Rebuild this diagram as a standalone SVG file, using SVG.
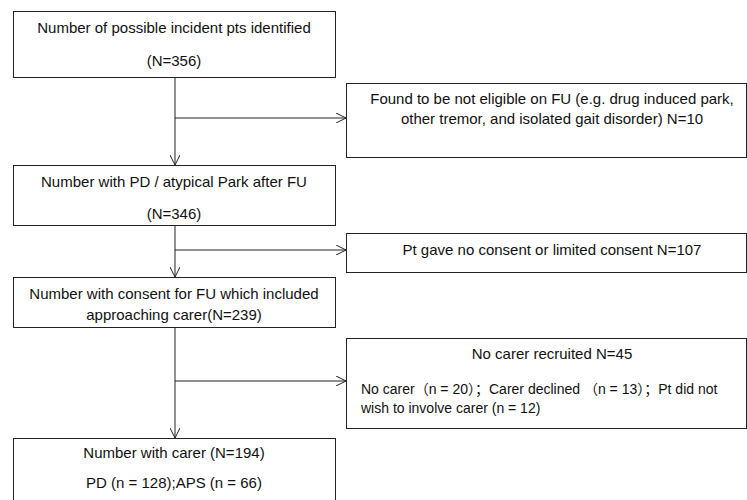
<svg xmlns="http://www.w3.org/2000/svg" width="747" height="500" viewBox="0 0 747 500">
<style>
.box{fill:#fff;stroke:#222;stroke-width:1}
.t{font-family:"Liberation Sans","Noto Sans CJK SC",sans-serif;font-size:15px;fill:#111}
.s{font-size:14px}
.c{text-anchor:middle}
.ln{stroke:#222;stroke-width:1;fill:none}
</style>
<defs>
<marker id="ah" viewBox="0 0 10 10" refX="10" refY="5" markerWidth="10" markerHeight="10" markerUnits="userSpaceOnUse" orient="auto">
<path d="M0,0 L10,5 L0,10" fill="none" stroke="#222" stroke-width="1"/>
</marker>
</defs>
<rect width="747" height="500" fill="#fff"/>
<g id="connectors">
<path class="ln" d="M175,77 V165" marker-end="url(#ah)"/>
<path class="ln" d="M175,118 H346" marker-end="url(#ah)"/>
<path class="ln" d="M175,225 V277" marker-end="url(#ah)"/>
<path class="ln" d="M175,250 H346" marker-end="url(#ah)"/>
<path class="ln" d="M175,327 V438" marker-end="url(#ah)"/>
<path class="ln" d="M175,381 H346" marker-end="url(#ah)"/>
</g>
<g id="n1">
<rect class="box" x="13.5" y="11.5" width="322" height="66"/>
<text class="t c" x="174" y="33">Number of possible incident pts identified</text>
<text class="t c" x="174" y="66">(N=356)</text>
</g>
<g id="n2">
<rect class="box" x="346.5" y="83.5" width="400" height="74"/>
<text class="t c" x="552" y="104">Found to be not eligible on FU (e.g. drug induced park,</text>
<text class="t c" x="552" y="124">other tremor, and isolated gait disorder) N=10</text>
</g>
<g id="n3">
<rect class="box" x="13.5" y="165.5" width="322" height="60"/>
<text class="t c" x="174" y="187">Number with PD / atypical Park after FU</text>
<text class="t c" x="174" y="219">(N=346)</text>
</g>
<g id="n4">
<rect class="box" x="346.5" y="233.5" width="400" height="39"/>
<text class="t c" x="552" y="255">Pt gave no consent or limited consent N=107</text>
</g>
<g id="n5">
<rect class="box" x="13.5" y="277.5" width="322" height="50"/>
<text class="t c" x="174" y="299">Number with consent for FU which included</text>
<text class="t c" x="174" y="320">approaching carer(N=239)</text>
</g>
<g id="n6">
<rect class="box" x="346.5" y="338.5" width="400" height="90"/>
<text class="t c" x="552" y="359">No carer recruited N=45</text>
<text class="t s" x="361" y="394">No carer（n = 20）；Carer declined （n = 13）；Pt did not</text>
<text class="t s" x="361" y="413">wish to involve carer (n = 12)</text>
</g>
<g id="n7">
<rect class="box" x="13.5" y="438.5" width="322" height="70"/>
<text class="t c" x="174" y="458">Number with carer (N=194)</text>
<text class="t c" x="174" y="488">PD (n = 128);APS (n = 66)</text>
</g>
</svg>
